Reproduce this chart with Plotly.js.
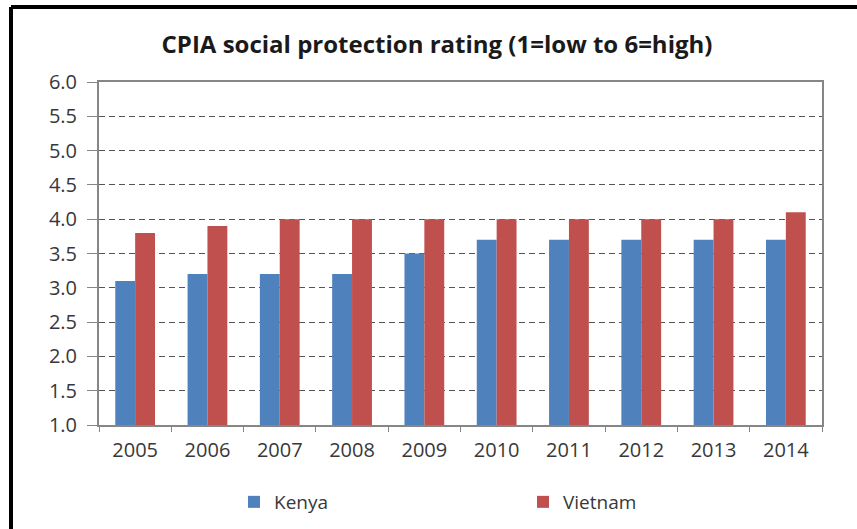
<!DOCTYPE html>
<html>
<head>
<meta charset="utf-8">
<script src="https://cdn.plot.ly/plotly-3.0.1.min.js"></script>
<style>
  html, body { margin: 0; padding: 0; background: #ffffff; }
  #chart { width: 857px; height: 529px; }
</style>
</head>
<body>
<div id="chart"></div>
<script>
const years = ['2005', '2006', '2007', '2008', '2009', '2010', '2011', '2012', '2013', '2014'];
const kenya = [3.1, 3.2, 3.2, 3.2, 3.5, 3.7, 3.7, 3.7, 3.7, 3.7];
const vietnam = [3.8, 3.9, 4.0, 4.0, 4.0, 4.0, 4.0, 4.0, 4.0, 4.1];
const seriesNames = ['Kenya', 'Vietnam'];
const chartTitle = 'CPIA social protection rating (1=low to 6=high)';

const traces = [
  { type: 'bar', name: seriesNames[0], x: years, y: kenya, marker: { color: '#4F81BD' }, hoverinfo: 'x+y+name' },
  { type: 'bar', name: seriesNames[1], x: years, y: vietnam, marker: { color: '#C0504D' }, hoverinfo: 'x+y+name' }
];

const W = 857, H = 529;
const mL = 99, mR = 35, mT = 82, mB = 104;
const pw = W - mL - mR, ph = H - mT - mB;
// frame lines (decoration), positioned in paper coordinates
const fx = (11 - mL) / pw;
const fy = (H - mB - 7) / ph;

const layout = {
  width: W, height: H,
  margin: { l: mL, r: mR, t: mT, b: mB, pad: 0 },
  paper_bgcolor: '#ffffff',
  plot_bgcolor: '#ffffff',
  font: { family: 'Open Sans, sans-serif', color: '#383838' },
  title: {
    text: '<b>' + chartTitle + '</b>',
    font: { family: 'Open Sans, sans-serif', size: 24, color: '#1a1a1a' },
    x: 437 / W, xref: 'container', xanchor: 'center',
    y: 1 - 45 / H, yref: 'container', yanchor: 'middle'
  },
  barmode: 'group',
  bargap: 0.45,
  bargroupgap: 0,
  xaxis: {
    type: 'category',
    showline: true, linecolor: '#868686', linewidth: 2, mirror: true,
    ticks: 'outside', tickson: 'boundaries', ticklen: 5, tickcolor: '#868686', tickwidth: 1,
    tickfont: { family: 'Open Sans, sans-serif', size: 20, color: '#383838' },
    ticklabelstandoff: 6,
    showgrid: false, zeroline: false
  },
  yaxis: {
    range: [1, 6], dtick: 0.5, tick0: 1, tickformat: '.1f',
    showline: true, linecolor: '#868686', linewidth: 2, mirror: true,
    ticks: 'outside', ticklen: 10, tickcolor: '#868686', tickwidth: 1,
    tickfont: { family: 'Open Sans, sans-serif', size: 20, color: '#383838' },
    ticklabelstandoff: 6,
    showgrid: true, gridcolor: '#555555', gridwidth: 1, griddash: '6px,4px',
    zeroline: false
  },
  legend: {
    orientation: 'h',
    xref: 'container', x: 234 / W, xanchor: 'left',
    yref: 'container', y: 1 - 502 / H, yanchor: 'middle',
    font: { family: 'Open Sans, sans-serif', size: 19, color: '#383838' },
    entrywidth: 244, entrywidthmode: 'pixels',
    bgcolor: 'rgba(0,0,0,0)'
  },
  shapes: [
    { type: 'line', xref: 'paper', yref: 'paper', x0: fx, x1: fx, y0: fy, y1: -0.5, line: { color: '#000000', width: 4 } },
    { type: 'line', xref: 'paper', yref: 'paper', x0: fx, x1: 1.2, y0: fy, y1: fy, line: { color: '#000000', width: 4 } }
  ],
  showlegend: true
};

Plotly.newPlot('chart', traces, layout, { displayModeBar: false, staticPlot: true });
</script>
</body>
</html>
